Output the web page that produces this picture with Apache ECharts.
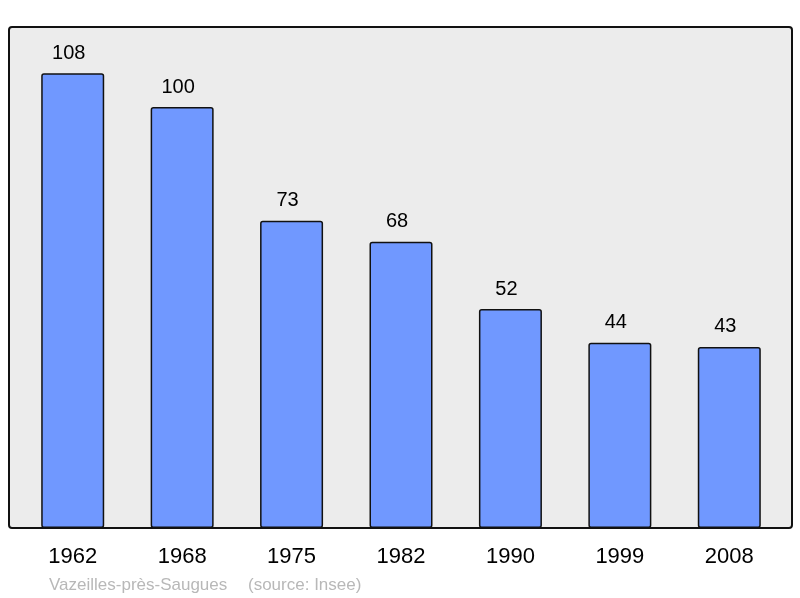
<!DOCTYPE html>
<html>
<head>
<meta charset="utf-8">
<script src="https://cdn.jsdelivr.net/npm/echarts@6/dist/echarts.min.js"></script>
<style>
  html, body { margin: 0; padding: 0; background: #fff; }
  #chart { width: 800px; height: 598px; }
</style>
</head>
<body>
<div id="chart"></div>
<script>
  // population by census year
  let years = ['1962', '1968', '1975', '1982', '1990', '1999', '2008'];
  let population = [108, 100, 73, 68, 52, 44, 43];
  let placeName = 'Vazeilles-près-Saugues';
  let sourceNote = '(source: Insee)';

  let myChart = echarts.init(document.getElementById('chart'));
  const option = {
    animation: false,
    textStyle: { fontFamily: 'Liberation Sans, Arial, sans-serif' },
    graphic: [
      {
        type: 'rect',
        z: -10,
        shape: { x: 9, y: 27, width: 783, height: 501, r: 3 },
        style: { fill: '#ececec', stroke: '#111', lineWidth: 2 }
      },
      {
        type: 'text',
        left: 49,
        top: 577,
        style: {
          text: placeName,
          fill: '#b8b8b8',
          fontSize: 17,
          fontFamily: 'Liberation Sans, Arial, sans-serif'
        }
      },
      {
        type: 'text',
        left: 248,
        top: 577,
        style: {
          text: sourceNote,
          fill: '#b8b8b8',
          fontSize: 17,
          fontFamily: 'Liberation Sans, Arial, sans-serif'
        }
      }
    ],
    grid: {
      left: 18,
      right: 16,
      top: 27,
      bottom: 70
    },
    xAxis: {
      type: 'category',
      data: years,
      axisLine: { show: false },
      axisTick: { show: false },
      axisLabel: {
        color: '#000',
        fontSize: 22,
        margin: 18
      }
    },
    yAxis: {
      type: 'value',
      min: 0,
      max: 119,
      show: false,
      splitLine: { show: false }
    },
    series: [
      {
        type: 'bar',
        data: population,
        barWidth: 63,
        itemStyle: {
          color: '#7098ff',
          borderColor: '#111',
          borderWidth: 1.5,
          borderRadius: 2
        },
        label: {
          show: true,
          position: 'top',
          distance: 10,
          offset: [-4, 0],
          color: '#000',
          fontSize: 20
        }
      }
    ]
  };
  myChart.setOption(option);
</script>
</body>
</html>
